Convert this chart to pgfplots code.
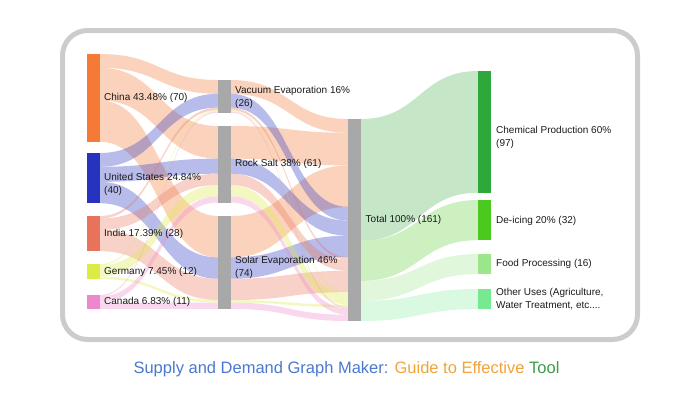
\documentclass[border=0pt]{standalone}
\usepackage{pgfplots}
\pgfplotsset{compat=1.18}
\usepackage{fontspec}
\setmainfont{Liberation Sans}

\definecolor{cChina}{HTML}{F47A36}
\definecolor{cUS}{HTML}{2633BF}
\definecolor{cIndia}{HTML}{E9735A}
\definecolor{cGermany}{HTML}{DCEB45}
\definecolor{cCanada}{HTML}{EE88CC}
\definecolor{cGray}{HTML}{A8A8A8}
\definecolor{cChem}{HTML}{2EA83A}
\definecolor{cDeice}{HTML}{4CC91E}
\definecolor{cFood}{HTML}{9BE58A}
\definecolor{cOther}{HTML}{77E991}
\definecolor{tBlue}{HTML}{4A78D0}
\definecolor{tOrange}{HTML}{F2A33A}
\definecolor{tGreen}{HTML}{3E9B47}
\definecolor{txt}{HTML}{1A1A1A}

\newcommand\pxu{1.2547}
\newcommand\defnode[4]{%
  \expandafter\xdef\csname nx@#1\endcsname{#2}%
  \expandafter\xdef\csname out@#1\endcsname{#3}%
  \expandafter\xdef\csname in@#1\endcsname{#3}%
  \expandafter\xdef\csname top@#1\endcsname{#3}%
  \pgfmathsetmacro\tmpb{#3+#4*\pxu}%
  \expandafter\xdef\csname bot@#1\endcsname{\tmpb}%
}
\newcommand\drawnode[2]{%
  \pgfmathsetmacro\nxa{\csname nx@#1\endcsname}%
  \pgfmathsetmacro\nxb{\nxa+13}%
  \edef\temp{\noexpand\fill[#2] (axis cs:\nxa,\csname top@#1\endcsname) rectangle (axis cs:\nxb,\csname bot@#1\endcsname);}\temp
}
% src, tgt, value, colour, opacity
\newcommand\link[5]{%
  \pgfmathsetmacro\lxa{\csname nx@#1\endcsname+13}%
  \pgfmathsetmacro\lxb{\csname nx@#2\endcsname}%
  \pgfmathsetmacro\lxm{(\lxa+\lxb)/2}%
  \pgfmathsetmacro\lya{\csname out@#1\endcsname}%
  \pgfmathsetmacro\lyb{\csname in@#2\endcsname}%
  \pgfmathsetmacro\lw{#3*\pxu}%
  \pgfmathsetmacro\lyc{\lya+\lw}%
  \pgfmathsetmacro\lyd{\lyb+\lw}%
  \expandafter\xdef\csname out@#1\endcsname{\lyc}%
  \expandafter\xdef\csname in@#2\endcsname{\lyd}%
  \edef\temp{\noexpand\fill[#4,fill opacity=#5] (axis cs:\lxa,\lya) .. controls (axis cs:\lxm,\lya) and (axis cs:\lxm,\lyb) .. (axis cs:\lxb,\lyb) -- (axis cs:\lxb,\lyd) .. controls (axis cs:\lxm,\lyd) and (axis cs:\lxm,\lyc) .. (axis cs:\lxa,\lyc) -- cycle;}\temp
}

\begin{document}
\begin{tikzpicture}
\begin{axis}[scale only axis, width=698pt, height=400pt,
  xmin=0, xmax=698, ymin=0, ymax=400, y dir=reverse,
  hide axis, clip=false]
\path (axis cs:0,0) rectangle (axis cs:698,400);
\draw[line width=5pt, draw=black!20, rounded corners=25pt] (axis cs:62.5,30.5) rectangle (axis cs:637.5,339.5);

% nodes: name, x, top, value
\defnode{China}{87}{54}{70}
\defnode{US}{87}{153}{40}
\defnode{India}{87}{216}{28}
\defnode{Germany}{87}{264}{12}
\defnode{Canada}{87}{295}{11}
\defnode{Vac}{218}{80}{26}
\defnode{Rock}{218}{126}{61}
\defnode{Solar}{218}{216}{74}
\defnode{Total}{348}{119}{161}
\defnode{Chem}{478}{71}{97}
\defnode{Deice}{478}{200}{32}
\defnode{Food}{478}{254}{16}
\defnode{Other}{478}{289}{16}

% country -> method
\link{China}{Vac}{11}{cChina}{0.33}
\link{China}{Rock}{26}{cChina}{0.33}
\link{China}{Solar}{33}{cChina}{0.33}
\link{US}{Vac}{11}{cUS}{0.33}
\link{US}{Rock}{12}{cUS}{0.33}
\link{US}{Solar}{17}{cUS}{0.33}
\link{India}{Vac}{2}{cIndia}{0.33}
\link{India}{Rock}{9}{cIndia}{0.33}
\link{India}{Solar}{17}{cIndia}{0.33}
\link{Germany}{Vac}{1}{cGermany}{0.33}
\link{Germany}{Rock}{9}{cGermany}{0.33}
\link{Germany}{Solar}{2}{cGermany}{0.33}
\link{Canada}{Vac}{1}{cCanada}{0.33}
\link{Canada}{Rock}{5}{cCanada}{0.33}
\link{Canada}{Solar}{5}{cCanada}{0.33}
% method -> total
\link{Vac}{Total}{11}{cChina}{0.33}
\link{Rock}{Total}{26}{cChina}{0.33}
\link{Solar}{Total}{33}{cChina}{0.33}
\link{Vac}{Total}{11}{cUS}{0.33}
\link{Rock}{Total}{12}{cUS}{0.33}
\link{Solar}{Total}{17}{cUS}{0.33}
\link{Vac}{Total}{2}{cIndia}{0.33}
\link{Rock}{Total}{9}{cIndia}{0.33}
\link{Solar}{Total}{17}{cIndia}{0.33}
\link{Vac}{Total}{1}{cGermany}{0.33}
\link{Rock}{Total}{9}{cGermany}{0.33}
\link{Solar}{Total}{2}{cGermany}{0.33}
\link{Vac}{Total}{1}{cCanada}{0.33}
\link{Rock}{Total}{5}{cCanada}{0.33}
\link{Solar}{Total}{5}{cCanada}{0.33}
% total -> uses
\link{Total}{Chem}{97}{cChem}{0.28}
\link{Total}{Deice}{32}{cDeice}{0.28}
\link{Total}{Food}{16}{cFood}{0.3}
\link{Total}{Other}{16}{cOther}{0.28}

\drawnode{China}{cChina}
\drawnode{US}{cUS}
\drawnode{India}{cIndia}
\drawnode{Germany}{cGermany}
\drawnode{Canada}{cCanada}
\drawnode{Vac}{cGray}
\drawnode{Rock}{cGray}
\drawnode{Solar}{cGray}
\drawnode{Total}{cGray}
\drawnode{Chem}{cChem}
\drawnode{Deice}{cDeice}
\drawnode{Food}{cFood}
\drawnode{Other}{cOther}

\begin{scope}[every node/.style={anchor=west, align=left, inner sep=0pt, text=txt, font=\fontsize{10}{13}\selectfont}]
\node at (axis cs:104,98) {China 43.48\% (70)};
\node at (axis cs:104,184) {United States 24.84\%\\(40)};
\node at (axis cs:104,233.5) {India 17.39\% (28)};
\node at (axis cs:104,271.5) {Germany 7.45\% (12)};
\node at (axis cs:104,302) {Canada 6.83\% (11)};
\node at (axis cs:235,97) {Vacuum Evaporation 16\%\\(26)};
\node at (axis cs:235,164) {Rock Salt 38\% (61)};
\node at (axis cs:235,267.5) {Solar Evaporation 46\%\\(74)};
\node at (axis cs:365.5,220) {Total 100\% (161)};
\node at (axis cs:496,137.5) {Chemical Production 60\%\\(97)};
\node at (axis cs:496,220.5) {De-icing 20\% (32)};
\node at (axis cs:496,264) {Food Processing (16)};
\node at (axis cs:496,299) {Other Uses (Agriculture,\\Water Treatment, etc....};
\end{scope}

\node[anchor=base, inner sep=0pt, font=\fontsize{16.5}{20}\selectfont] at (axis cs:346.5,373) {\textcolor{tBlue}{Supply and Demand Graph Maker:} \textcolor{tOrange}{Guide to Effective} \textcolor{tGreen}{Tool}};
\end{axis}
\end{tikzpicture}
\end{document}
